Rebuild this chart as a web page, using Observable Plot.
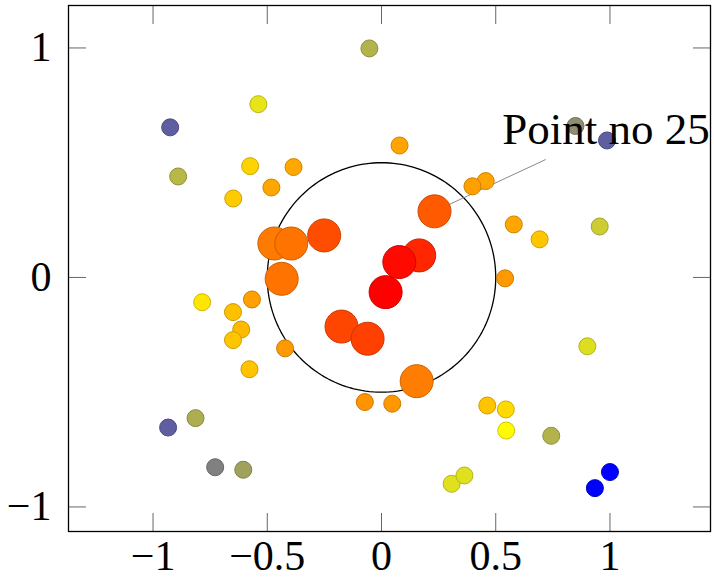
<!DOCTYPE html>
<html><head><meta charset="utf-8">
<script src="https://cdn.jsdelivr.net/npm/d3@7"></script>
<script src="https://cdn.jsdelivr.net/npm/@observablehq/plot@0.6"></script>
<style>body{margin:0;background:#fff} svg{display:block}</style>
</head><body><div id="chart"></div>
<script>
// point data (drawing order)
const xs = [-0.053,-0.539,-0.925,0.849,0.987,0.079,-0.575,-0.385,-0.890,-0.482,-0.649,0.456,0.398,0.232,0.579,0.692,0.955,-0.469,-0.395,-0.251,0.165,0.018,0.078,-0.437,0.541,-0.785,-0.567,-0.650,-0.614,-0.650,-0.175,-0.061,-0.422,0.901,-0.578,0.154,-0.073,0.047,0.463,0.544,0.546,-0.814,-0.934,0.743,-0.728,-0.605,0.307,0.363,1.000,0.934];
const ys = [0.998,0.755,0.654,0.660,0.597,0.575,0.485,0.481,0.440,0.392,0.344,0.420,0.397,0.288,0.231,0.166,0.222,0.148,0.148,0.183,0.096,-0.064,0.067,-0.006,-0.004,-0.108,-0.096,-0.151,-0.227,-0.273,-0.214,-0.267,-0.309,-0.300,-0.400,-0.452,-0.543,-0.550,-0.558,-0.575,-0.667,-0.613,-0.654,-0.690,-0.827,-0.838,-0.899,-0.863,-0.848,-0.918];
const metas = [0.70,0.90,0.37,0.56,0.37,1.72,1.35,1.68,0.72,1.70,1.42,1.72,1.75,2.30,1.70,1.45,0.80,2.05,2.10,2.40,2.70,3.00,2.92,2.10,1.80,1.20,1.75,1.50,1.55,1.45,2.45,2.50,1.80,0.87,1.47,2.02,1.85,1.82,1.47,1.30,1.03,0.68,0.37,0.70,0.50,0.63,0.88,0.88,0.00,0.00];
const colormapStops = ["rgb(0,0,255)","rgb(255,255,0)","rgb(255,128,0)","rgb(255,0,0)"];
const xTicks = [-1,-0.5,0,0.5,1];
const xTickLabels = ["−1","−0.5","0","0.5","1"];
const yTicks = [-1,0,1];
const yTickLabels = ["−1","0","1"];
const circleRadius = 0.5;
const annotationText = "Point no 25";
const annotationPoint = 13;
const annotationPin = {x: 0.719, y: 0.514};
const annotationLabel = {x: 0.528, y: 0.645};

const points = xs.map((x, i) => ({x, y: ys[i], meta: metas[i]}));
const circle = d3.range(0, 361, 2).map(a => ({x: circleRadius * Math.cos(a * Math.PI / 180), y: circleRadius * Math.sin(a * Math.PI / 180)}));
const ann = [{x1: xs[annotationPoint], y1: ys[annotationPoint], x2: annotationPin.x, y2: annotationPin.y, tx: annotationLabel.x, ty: annotationLabel.y, text: annotationText}];

const font = "'Liberation Serif', 'DejaVu Serif', serif";
const chart = Plot.plot({
  width: 714, height: 578,
  marginLeft: 68, marginRight: 4, marginTop: 5, marginBottom: 47,
  style: {fontFamily: font, fontSize: "42px", background: "#fff", color: "black"},
  x: {domain: [-1.37, 1.44]},
  y: {domain: [-1.107, 1.185]},
  r: {type: "identity"},
  color: {type: "linear", domain: [0, 3], interpolate: d3.piecewise(d3.interpolateRgb, colormapStops)},
  marks: [
    Plot.line(circle, {x: "x", y: "y", stroke: "black", strokeWidth: 1.3}),
    Plot.link(ann, {x1: "x1", y1: "y1", x2: "x2", y2: "y2", stroke: "#8a8a8a", strokeWidth: 1}),
    Plot.dot(points, {x: "x", y: "y", r: d => d.meta > 1.95 ? 16.5 : 8.5, fill: "meta", stroke: "meta", strokeWidth: 1, sort: null}),
    Plot.text(ann, {x: "tx", y: "ty", text: "text", textAnchor: "start", fill: "black", fontSize: 45}),
    Plot.axisX(xTicks, {anchor: "bottom", tickSize: 18, dy: -18, tickFormat: () => "", stroke: "#666", label: null}),
    Plot.axisX(xTicks, {anchor: "top", tickSize: 18, dy: 18, tickFormat: () => "", stroke: "#666", label: null}),
    Plot.axisY(yTicks, {anchor: "left", tickSize: 18, dx: 18, tickFormat: () => "", stroke: "#666", label: null}),
    Plot.axisY(yTicks, {anchor: "right", tickSize: 18, dx: -18, tickFormat: () => "", stroke: "#666", label: null}),
    Plot.axisX(xTicks, {anchor: "bottom", tickSize: 0, tickPadding: 9, tickFormat: d => xTickLabels[xTicks.indexOf(d)], label: null}),
    Plot.axisY(yTicks, {anchor: "left", tickSize: 0, tickPadding: 17, tickFormat: d => yTickLabels[yTicks.indexOf(d)], label: null}),
    Plot.frame({stroke: "black", strokeWidth: 1.3})
  ]
});
// outline each marker with a darker shade of its mapped colour
chart.querySelectorAll("circle").forEach(c => {
  const s = d3.color(c.getAttribute("stroke"));
  if (s) { s.r *= 0.8; s.g *= 0.8; s.b *= 0.8; c.setAttribute("stroke", s.formatRgb()); }
});
document.getElementById("chart").append(chart);
</script>
</body></html>
